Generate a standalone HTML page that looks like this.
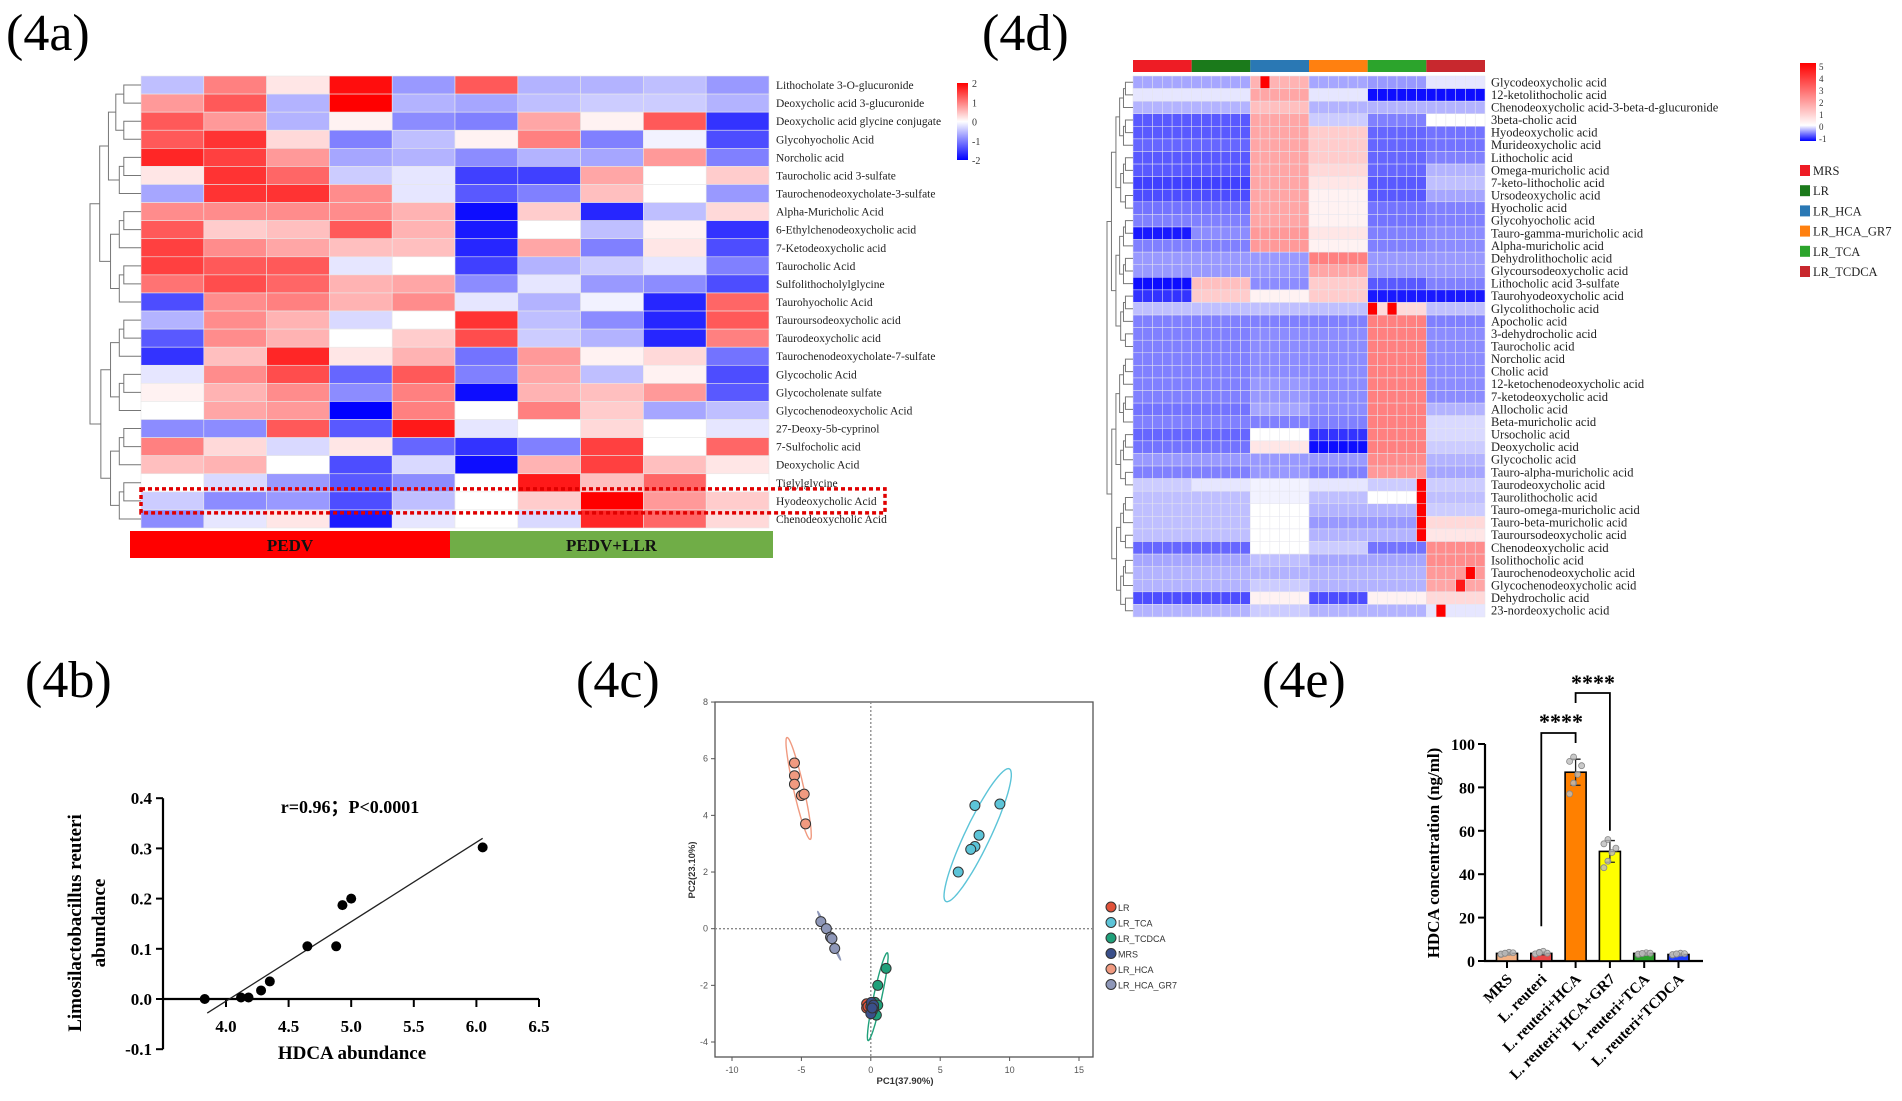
<!DOCTYPE html>
<html><head><meta charset="utf-8">
<style>
html,body{margin:0;padding:0;background:#fff;}
svg{display:block;}
.ser{font-family:"Liberation Serif",serif;}
.san{font-family:"Liberation Sans",sans-serif;}
</style></head>
<body>
<svg id="fig" width="1902" height="1101" viewBox="0 0 1902 1101" xmlns="http://www.w3.org/2000/svg">
<text x="6" y="50" class="ser" font-size="52">(4a)</text>
<text x="982" y="50" class="ser" font-size="52">(4d)</text>
<text x="25" y="697" class="ser" font-size="52">(4b)</text>
<text x="576" y="697" class="ser" font-size="52">(4c)</text>
<text x="1262" y="697" class="ser" font-size="52">(4e)</text>
<defs>
<linearGradient id="cbar" x1="0" y1="0" x2="0" y2="1">
<stop offset="0" stop-color="#ff0000"/><stop offset="0.5" stop-color="#ffffff"/><stop offset="1" stop-color="#0000ff"/>
</linearGradient>
<linearGradient id="cbar2" x1="0" y1="0" x2="0" y2="1">
<stop offset="0" stop-color="#ff0000"/><stop offset="0.8" stop-color="#ffffff"/><stop offset="1" stop-color="#0000ff"/>
</linearGradient>
</defs>
<g id="g4a"></g>
<g id="g4d"></g>
<g id="g4b"></g>
<g id="g4c"></g>
<g id="g4e"></g>
</svg>
<script>
// ---------- 4a data ----------
const rows4a = ["Lithocholate 3-O-glucuronide","Deoxycholic acid 3-glucuronide","Deoxycholic acid glycine conjugate","Glycohyocholic Acid","Norcholic acid","Taurocholic acid 3-sulfate","Taurochenodeoxycholate-3-sulfate","Alpha-Muricholic Acid","6-Ethylchenodeoxycholic acid","7-Ketodeoxycholic acid","Taurocholic Acid","Sulfolithocholylglycine","Taurohyocholic Acid","Tauroursodeoxycholic acid","Taurodeoxycholic acid","Taurochenodeoxycholate-7-sulfate","Glycocholic Acid","Glycocholenate sulfate","Glycochenodeoxycholic Acid","27-Deoxy-5b-cyprinol","7-Sulfocholic acid","Deoxycholic Acid","Tiglylglycine","Hyodeoxycholic Acid","Chenodeoxycholic Acid"];
const vals4a = [
[-0.5,1.0,0.2,1.9,-0.8,1.3,-0.6,-0.6,-0.5,-0.8],
[0.8,1.3,-0.6,2.0,-0.6,-0.7,-0.5,-0.4,-0.4,-0.6],
[1.3,0.8,-0.6,0.1,-0.9,-1.0,0.7,0.1,1.3,-1.6],
[1.3,1.6,0.3,-1.0,-0.5,0.1,1.0,-1.0,-0.1,-1.4],
[1.7,1.5,0.8,-0.7,-0.6,-0.9,-0.6,-0.7,0.8,-1.0],
[0.2,1.6,1.2,-0.4,-0.2,-1.5,-1.5,0.7,0.0,0.4],
[-0.7,1.6,1.6,0.9,-0.2,-1.3,-1.0,0.5,0.0,-0.8],
[0.9,0.9,0.9,0.9,0.6,-1.9,0.4,-1.7,-0.5,0.3],
[1.3,0.4,0.5,1.3,0.6,-1.8,0.0,-0.5,0.1,-1.6],
[1.5,0.9,0.7,0.5,0.5,-1.7,0.7,-1.0,0.2,-1.4],
[1.5,1.3,1.3,-0.2,0.0,-1.5,-0.6,-0.4,-0.2,-1.0],
[1.1,1.4,1.2,0.6,0.7,-0.9,-0.2,-0.8,-0.9,-1.4],
[-1.4,0.9,1.0,0.6,0.9,-0.2,-0.6,-0.1,-1.7,1.2],
[-0.6,0.9,0.6,-0.3,0.0,1.6,-0.5,-0.9,-1.7,1.3],
[-1.3,0.9,0.6,0.0,0.4,1.4,-0.4,-0.6,-1.7,1.0],
[-1.6,0.5,1.7,0.2,0.6,-1.1,0.8,0.1,0.3,-1.1],
[-0.2,0.9,1.4,-1.2,1.3,-1.0,0.7,-0.5,0.1,-1.4],
[0.1,0.6,0.9,-0.9,1.0,-1.9,0.6,0.5,0.8,-1.3],
[0.0,0.7,0.8,-2.0,1.0,0.0,1.0,0.4,-0.7,-0.5],
[-0.9,-0.9,1.3,-1.3,1.8,-0.2,0.0,0.3,0.0,-0.2],
[1.0,0.3,-0.3,0.2,-1.2,-1.6,-1.0,1.5,0.0,1.2],
[0.5,0.6,0.0,-1.4,-0.3,-1.9,0.6,1.5,0.5,0.2],
[0.0,-0.3,-0.8,-1.3,-0.9,0.0,1.8,0.5,1.2,0.0],
[-0.4,-0.9,-0.8,-1.4,-0.5,0.0,0.4,2.0,0.8,0.4],
[-0.9,-0.2,0.2,-1.8,-0.2,0.0,-0.3,1.7,1.2,0.3]];
const groups4a = ["PEDV","PEDV+LLR"];
const cbTicks4a = [2,1,0,-1,-2];

// ---------- 4d data ----------
const rows4d = ["Glycodeoxycholic acid","12-ketolithocholic acid","Chenodeoxycholic acid-3-beta-d-glucuronide","3beta-cholic acid","Hyodeoxycholic acid","Murideoxycholic acid","Lithocholic acid","Omega-muricholic acid","7-keto-lithocholic acid","Ursodeoxycholic acid","Hyocholic acid","Glycohyocholic acid","Tauro-gamma-muricholic acid","Alpha-muricholic acid","Dehydrolithocholic acid","Glycoursodeoxycholic acid","Lithocholic acid 3-sulfate","Taurohyodeoxycholic acid","Glycolithocholic acid","Apocholic acid","3-dehydrocholic acid","Taurocholic acid","Norcholic acid","Cholic acid","12-ketochenodeoxycholic acid","7-ketodeoxycholic acid","Allocholic acid","Beta-muricholic acid","Ursocholic acid","Deoxycholic acid","Glycocholic acid","Tauro-alpha-muricholic acid","Taurodeoxycholic acid","Taurolithocholic acid","Tauro-omega-muricholic acid","Tauro-beta-muricholic acid","Tauroursodeoxycholic acid","Chenodeoxycholic acid","Isolithocholic acid","Taurochenodeoxycholic acid","Glycochenodeoxycholic acid","Dehydrocholic acid","23-nordeoxycholic acid"];
const groups4d = ["MRS","LR","LR_HCA","LR_HCA_GR7","LR_TCA","LR_TCDCA"];
const groupColors4d = ["#ee1c25","#1b7a1b","#2a78b4","#ff8010","#2ca42c","#c8282e"];
const vals4d = [
[-0.7,-0.7,0.6,-0.7,-0.8,-0.2],[-0.2,-0.2,0.7,-0.2,-1.9,-1.9],[-0.6,-0.6,0.5,-0.6,-0.6,-0.6],[-1.3,-1.3,0.7,-0.4,-1.0,0.0],
[-1.3,-1.3,0.7,0.4,-1.2,-1.1],[-1.2,-1.2,0.7,0.4,-1.2,-1.1],[-1.3,-1.3,0.7,0.4,-1.2,-1.0],[-1.3,-1.3,0.7,0.3,-1.2,-0.6],
[-1.5,-1.5,0.7,0.2,-1.3,-0.5],[-1.4,-1.4,0.7,0.1,-1.3,-0.7],[-1.1,-1.1,0.7,0.1,-1.1,-1.0],[-1.0,-1.0,0.7,0.1,-1.1,-1.0],
[-1.8,-0.9,0.8,0.2,-1.0,-0.9],[-1.0,-1.0,0.8,0.1,-1.0,-0.9],[-0.8,-0.8,-0.8,1.0,-0.8,-0.8],[-0.8,-0.8,-0.8,0.7,-0.8,-0.8],
[-1.9,0.5,-0.9,0.4,-1.3,-1.0],[-1.6,0.4,0.1,0.4,-1.8,-1.8],[-0.5,-0.5,-0.5,-0.5,0.3,-0.5],[-1.0,-1.0,-1.0,-1.0,1.0,-1.0],
[-1.0,-1.0,-0.9,-0.9,1.0,-0.9],[-1.0,-1.0,-0.9,-0.9,1.0,-0.9],[-1.0,-1.0,-0.9,-0.9,1.0,-0.9],[-1.0,-1.0,-0.9,-0.9,1.0,-0.9],
[-1.0,-1.0,-0.8,-0.9,1.0,-0.9],[-1.0,-1.0,-0.8,-0.9,1.0,-0.9],[-1.1,-1.1,-0.7,-0.9,1.0,-0.6],[-1.0,-1.0,-1.0,-1.0,1.0,-0.3],
[-1.2,-1.2,0.0,-1.6,1.0,-0.3],[-1.1,-1.1,0.2,-1.9,1.0,-0.4],[-0.8,-0.8,-0.8,-0.8,0.9,-0.6],[-1.0,-1.0,-0.8,-1.0,0.8,-0.7],
[-0.4,-0.2,-0.1,-0.2,-0.4,-0.4],[-0.5,-0.5,-0.1,-0.5,0.0,-0.5],[-0.5,-0.5,0.0,-0.6,-0.6,-0.4],[-0.5,-0.5,0.0,-0.8,-0.8,0.3],
[-0.5,-0.5,0.0,-0.6,-0.6,0.2],[-1.2,-1.2,0.0,-0.4,-1.1,0.9],[-0.7,-0.7,-0.5,-0.7,-0.7,0.9],[-0.6,-0.6,-0.6,-0.6,-0.6,0.8],
[-0.6,-0.6,-0.4,-0.6,-0.6,0.7],[-1.4,-1.4,0.1,-1.4,0.1,0.3],[-0.6,-0.6,-0.4,-0.6,-0.6,-0.2]];
const hotRows4d = [0,18,18,32,33,34,35,36,39,40,42];
const hotCols4d = [13,24,26,29,29,29,29,29,34,33,31];
const hotVals4d = [2,2,2,2,2,2,2,2,2,1.8,2];
const cbTicks4d = [5,4,3,2,1,0,-1];

// ---------- 4b data ----------
const hdcaX = [3.83,4.12,4.18,4.28,4.35,4.65,4.88,4.93,5.0,6.05];
const reuteriY = [0.0,0.003,0.003,0.017,0.035,0.105,0.105,0.187,0.2,0.302];
const fitX = [3.85,6.05];
const fitY = [-0.028,0.32];
const xTicks4b = [4.0,4.5,5.0,5.5,6.0,6.5];
const yTicks4b = [-0.1,0.0,0.1,0.2,0.3,0.4];

// ---------- 4c data ----------
const pcaGroups = ["LR","LR_TCA","LR_TCDCA","MRS","LR_HCA","LR_HCA_GR7"];
const pcaColors = ["#e0523a","#5cc4d8","#1fa07a","#3a4f8a","#f09a80","#8e97b8"];
const pcaX = [
[-0.3,-0.3,0.0,-0.1,0.1,-0.2],
[7.5,9.3,7.8,7.5,7.2,6.3],
[1.1,0.5,0.3,0.5,0.4,0.2],
[0.0,0.1,0.05,0.0,0.2,0.1],
[-5.5,-5.5,-5.5,-5.0,-4.8,-4.7],
[-3.6,-3.2,-2.9,-2.8,-2.6]];
const pcaY = [
[-2.65,-2.8,-2.9,-2.7,-2.85,-2.75],
[4.35,4.4,3.3,2.9,2.8,2.0],
[-1.4,-2.0,-2.6,-2.7,-3.05,-2.8],
[-2.75,-2.9,-2.6,-3.0,-2.7,-2.8],
[5.85,5.4,5.1,4.7,4.75,3.7],
[0.25,0.0,-0.3,-0.35,-0.7]];
const ellGroup = [4,1,5,2];
const ellCx = [-5.2,7.7,-3.0,0.5];
const ellCy = [4.95,3.3,-0.25,-2.4];
const ellA = [1.8,2.35,0.85,1.55];   // half-height in PC2 units
const ellB = [0.38,1.0,0.08,0.3];   // half-width in PC1 units
const ellTilt = [-0.46,0.94,-0.96,0.44]; // dx per dy slope
const xTicks4c = [-10,-5,0,5,10,15];
const yTicks4c = [-4,-2,0,2,4,6,8];

// ---------- 4e data ----------
const cats4e = ["MRS","L. reuteri","L. reuteri+HCA","L. reuteri+HCA+GR7","L. reuteri+TCA","L. reuteri+TCDCA"];
const means4e = [3.5,3.5,87,50.5,3.5,3.0];
const sd4e = [0.5,0.6,6,5,0.5,0.5];
const colors4e = ["#f4b183","#e84848","#ff8000","#ffff00","#2ca02c","#2040ff"];
const pts4e = [[3,3.5,4,3.8,3.2,3.6],[3.2,4,4.5,3.6,3.3,3.8],[77,82,86,90,92,94],[43,46,50,52,54,56],[3,3.4,3.8,3.6,3.2,3.5],[2.8,3.2,3.6,3.4,3,3.3]];
const yTicks4e = [0,20,40,60,80,100];

const NS="http://www.w3.org/2000/svg";
function mk(parent,tag,attrs,txt){const e=document.createElementNS(NS,tag);for(const k in attrs)e.setAttribute(k,attrs[k]);if(txt!==undefined)e.textContent=txt;parent.appendChild(e);return e;}
function col(v,lim){let t=Math.max(-1,Math.min(1,v/lim));let r,g,b;if(t>=0){r=255;g=Math.round(255*(1-t));b=g;}else{b=255;r=Math.round(255*(1+t));g=r;}return `rgb(${r},${g},${b})`;}
function dendro(g,x0,x1,y0,rh,n){
  function rec(a,b,depth){
    if(a===b){return [y0+(a+0.5)*rh,x1];}
    const m=Math.floor((a+b)/2);
    const L=rec(a,m,depth+1),R=rec(m+1,b,depth+1);
    const span=b-a+1;
    const x=x1-(x1-x0)*Math.min(1,Math.log2(span+1)/Math.log2(n+1));
    mk(g,'path',{d:`M${L[1]},${L[0]}H${x}V${R[0]}H${R[1]}`,fill:'none',stroke:'#777','stroke-width':1});
    return [(L[0]+R[0])/2,x];
  }
  rec(0,n-1,0);
}

// ---------- draw 4a ----------
(function(){
const g=document.getElementById('g4a');
const X0=141,X1=769,Y0=76,Y1=528;
const cw=(X1-X0)/10, rh=(Y1-Y0)/rows4a.length;
vals4a.forEach((row,i)=>{row.forEach((v,j)=>{
  const r=mk(g,'rect',{x:X0+j*cw,y:Y0+i*rh,width:cw,height:rh,fill:col(v,2),stroke:'#e8e8e8','stroke-width':0.6});
  
  
});
  const t=mk(g,'text',{x:776,y:Y0+(i+0.5)*rh+4,class:'ser','font-size':11.5,fill:'#222'},rows4a[i]);
  
  
});
const dg=mk(g,'g',{});


dendro(dg,90,X0,Y0,rh,rows4a.length);
const hb=mk(g,'rect',{x:141,y:Y0+23*rh-3,width:744,height:rh+6,fill:'none',stroke:'#e00000','stroke-width':3.5,'stroke-dasharray':'4 3'});


const gx=[130,450,773],gc=['#ff0000','#70ad47'];
groups4a.forEach((n,i)=>{
  const r=mk(g,'rect',{x:gx[i],y:531,width:gx[i+1]-gx[i],height:27,fill:gc[i]});
  
  
  const t=mk(g,'text',{x:(gx[i]+gx[i+1])/2,y:551,'text-anchor':'middle',class:'ser','font-size':17,'font-weight':'bold',fill:'#111'},n);
  
  
});
const cb=mk(g,'rect',{x:957,y:83,width:11,height:77,fill:'url(#cbar)'});


cbTicks4a.forEach((v,i)=>{
  const t=mk(g,'text',{x:972,y:83+i*(77/4)+4,class:'ser','font-size':10,fill:'#333'},v);
  
  
});
})();

// ---------- draw 4d ----------
(function(){
const g=document.getElementById('g4d');
const X0=1133,X1=1485,Y0=76,Y1=617;
const nc=36,cw=(X1-X0)/nc,rh=(Y1-Y0)/rows4d.length;
groups4d.forEach((n,i)=>{
  const r=mk(g,'rect',{x:X0+i*6*cw,y:60,width:6*cw,height:12,fill:groupColors4d[i]});
  
  
});
const cells=[];
vals4d.forEach((row,i)=>{cells.push([]);for(let j=0;j<nc;j++){cells[i].push(row[Math.floor(j/6)]);}});
hotRows4d.forEach((r,k)=>{cells[r][hotCols4d[k]]=hotVals4d[k];});
cells.forEach((row,i)=>{row.forEach((v,j)=>{
  const r=mk(g,'rect',{x:X0+j*cw,y:Y0+i*rh,width:cw,height:rh,fill:col(v,2),stroke:'#e6e6ee','stroke-width':0.5});
  
  
});
  const t=mk(g,'text',{x:1491,y:Y0+(i+0.5)*rh+4,class:'ser','font-size':12.5,fill:'#222'},rows4d[i]);
  
  
});
const dg=mk(g,'g',{});


dendro(dg,1107,X0,Y0,rh,rows4d.length);
const cb=mk(g,'rect',{x:1800,y:63,width:16,height:78,fill:'url(#cbar2)'});


cbTicks4d.forEach((v,i)=>{
  const t=mk(g,'text',{x:1819,y:70+i*12,class:'ser','font-size':9,fill:'#333'},v);
  
  
});
groups4d.forEach((n,i)=>{
  const r=mk(g,'rect',{x:1800,y:165+i*20.2,width:10,height:11,fill:groupColors4d[i]});
  
  
  const t=mk(g,'text',{x:1813,y:175+i*20.2,class:'ser','font-size':12.5,fill:'#222'},n);
  
  
});
})();

// ---------- draw 4b ----------
(function(){
const g=document.getElementById('g4b');
const sx=v=>226+(v-4.0)*125.2, sy=v=>999-v*502;
const ax=mk(g,'path',{d:`M163,${sy(0.4)}V${sy(-0.1)}M163,${sy(0)}H${sx(6.5)}`,stroke:'#000','stroke-width':2.2,fill:'none'});


yTicks4b.forEach(v=>{
  mk(g,'line',{x1:156,x2:163,y1:sy(v),y2:sy(v),stroke:'#000','stroke-width':2});
  const t=mk(g,'text',{x:152,y:sy(v)+6,'text-anchor':'end',class:'ser','font-size':17,'font-weight':'bold'},v.toFixed(1));
  
  
});
xTicks4b.forEach(v=>{
  mk(g,'line',{x1:sx(v),x2:sx(v),y1:sy(0),y2:sy(0)+8,stroke:'#000','stroke-width':2});
  const t=mk(g,'text',{x:sx(v),y:sy(0)+33,'text-anchor':'middle',class:'ser','font-size':17,'font-weight':'bold'},v.toFixed(1));
  
  
});
const fl=mk(g,'line',{x1:sx(fitX[0]),y1:sy(fitY[0]),x2:sx(fitX[1]),y2:sy(fitY[1]),stroke:'#222','stroke-width':1.3});


hdcaX.forEach((x,i)=>{
  const c=mk(g,'circle',{cx:sx(x),cy:sy(reuteriY[i]),r:5,fill:'#000'});
  
  
});
const st=mk(g,'text',{x:350,y:813,'text-anchor':'middle',class:'ser','font-size':18,'font-weight':'bold'},'r=0.96；P<0.0001');


const xt=mk(g,'text',{x:352,y:1059,'text-anchor':'middle',class:'ser','font-size':19,'font-weight':'bold'},'HDCA abundance');


const yt=mk(g,'text',{transform:'translate(81,923) rotate(-90)','text-anchor':'middle',class:'ser','font-size':19,'font-weight':'bold'},'Limosilactobacillus reuteri');


const yt2=mk(g,'text',{transform:'translate(105,923) rotate(-90)','text-anchor':'middle',class:'ser','font-size':19,'font-weight':'bold'},'abundance');


})();

// ---------- draw 4c ----------
(function(){
const g=document.getElementById('g4c');
const sx=v=>732+(v+10)*13.88, sy=v=>1042-(v+4)*28.33;
const box=mk(g,'rect',{x:715,y:702,width:378,height:355,fill:'none',stroke:'#555','stroke-width':1.3});


mk(g,'line',{x1:sx(0),x2:sx(0),y1:702,y2:1057,stroke:'#888','stroke-width':1.3,'stroke-dasharray':'2 2'});
mk(g,'line',{x1:715,x2:1093,y1:sy(0),y2:sy(0),stroke:'#888','stroke-width':1.3,'stroke-dasharray':'2 2'});
xTicks4c.forEach(v=>{
  mk(g,'line',{x1:sx(v),x2:sx(v),y1:1057,y2:1061,stroke:'#555'});
  const t=mk(g,'text',{x:sx(v),y:1073,'text-anchor':'middle',class:'san','font-size':9,fill:'#555'},v);
  
  
});
yTicks4c.forEach(v=>{
  mk(g,'line',{x1:711,x2:715,y1:sy(v),y2:sy(v),stroke:'#555'});
  const t=mk(g,'text',{x:708,y:sy(v)+3,'text-anchor':'end',class:'san','font-size':9,fill:'#555'},v);
  
  
});
ellGroup.forEach((gi,k)=>{
  let d='';
  for(let s=0;s<=64;s++){const a=s/64*2*Math.PI;const dy=ellA[k]*Math.sin(a);const dx=ellB[k]*Math.cos(a)+ellTilt[k]*dy;
    d+=(s?'L':'M')+sx(ellCx[k]+dx).toFixed(1)+','+sy(ellCy[k]+dy).toFixed(1);}
  const p=mk(g,'path',{d:d+'Z',fill:'none',stroke:pcaColors[gi],'stroke-width':1.4});
  
  
});
[4,1,5,2,0,3].forEach(gi=>{
  pcaX[gi].forEach((x,i)=>{
    const c=mk(g,'circle',{cx:sx(x),cy:sy(pcaY[gi][i]),r:5,fill:pcaColors[gi],stroke:'#333','stroke-width':1});
    
    
  });
});
pcaGroups.forEach((n,i)=>{
  const c=mk(g,'circle',{cx:1111,cy:907+i*15.5,r:5,fill:pcaColors[i],stroke:'#333','stroke-width':1});
  
  
  const t=mk(g,'text',{x:1118,y:911+i*15.5,class:'san','font-size':9,fill:'#333'},n);
  
  
});
const xt=mk(g,'text',{x:905,y:1084,'text-anchor':'middle',class:'san','font-size':9.5,'font-weight':'bold',fill:'#333'},'PC1(37.90%)');


const yt=mk(g,'text',{transform:'translate(695,870) rotate(-90)','text-anchor':'middle',class:'san','font-size':9.5,'font-weight':'bold',fill:'#333'},'PC2(23.10%)');


})();

// ---------- draw 4e ----------
(function(){
const g=document.getElementById('g4e');
const sy=v=>961-v*2.17, cx=i=>1507+i*34.3, bw=21;
const ax=mk(g,'path',{d:`M1485,${sy(100)}V961H1703`,stroke:'#000','stroke-width':2.2,fill:'none'});


yTicks4e.forEach(v=>{
  mk(g,'line',{x1:1478,x2:1485,y1:sy(v),y2:sy(v),stroke:'#000','stroke-width':2});
  const t=mk(g,'text',{x:1475,y:sy(v)+6,'text-anchor':'end',class:'ser','font-size':16,'font-weight':'bold'},v);
  
  
});
cats4e.forEach((n,i)=>{
  mk(g,'line',{x1:cx(i),x2:cx(i),y1:961,y2:968,stroke:'#000','stroke-width':2});
  const b=mk(g,'rect',{x:cx(i)-bw/2,y:sy(means4e[i]),width:bw,height:961-sy(means4e[i]),fill:colors4e[i],stroke:'#000','stroke-width':1.6});
  
  
  mk(g,'path',{d:`M${cx(i)},${sy(means4e[i]-sd4e[i])}V${sy(means4e[i]+sd4e[i])}M${cx(i)-5},${sy(means4e[i]+sd4e[i])}H${cx(i)+5}M${cx(i)-5},${sy(means4e[i]-sd4e[i])}H${cx(i)+5}`,stroke:'#222','stroke-width':1.3,fill:'none'});
  pts4e[i].forEach((p,k)=>{
    const c=mk(g,'circle',{cx:cx(i)-6+(k%4)*4,cy:sy(p),r:3,fill:'#bbb',stroke:'#888','stroke-width':0.8,'fill-opacity':0.8});
    
    
  });
  const t=mk(g,'text',{transform:`translate(${cx(i)+6},980) rotate(-45)`,'text-anchor':'end',class:'ser','font-size':15,'font-weight':'bold'},n);
  
  
});
const br1=mk(g,'path',{d:`M${cx(1)},${sy(16)}V733H${cx(2)}V743`,stroke:'#000','stroke-width':1.8,fill:'none'});


const br2=mk(g,'path',{d:`M${cx(2)},703V693H${cx(3)}V${sy(60)}`,stroke:'#000','stroke-width':1.8,fill:'none'});


const s1=mk(g,'text',{x:1561,y:729,'text-anchor':'middle',class:'ser','font-size':22,'font-weight':'bold'},'****');


const s2=mk(g,'text',{x:1593,y:690,'text-anchor':'middle',class:'ser','font-size':22,'font-weight':'bold'},'****');


const yt=mk(g,'text',{transform:'translate(1439,853) rotate(-90)','text-anchor':'middle',class:'ser','font-size':17,'font-weight':'bold'},'HDCA concentration (ng/ml)');


})();
</script>
</body></html>
